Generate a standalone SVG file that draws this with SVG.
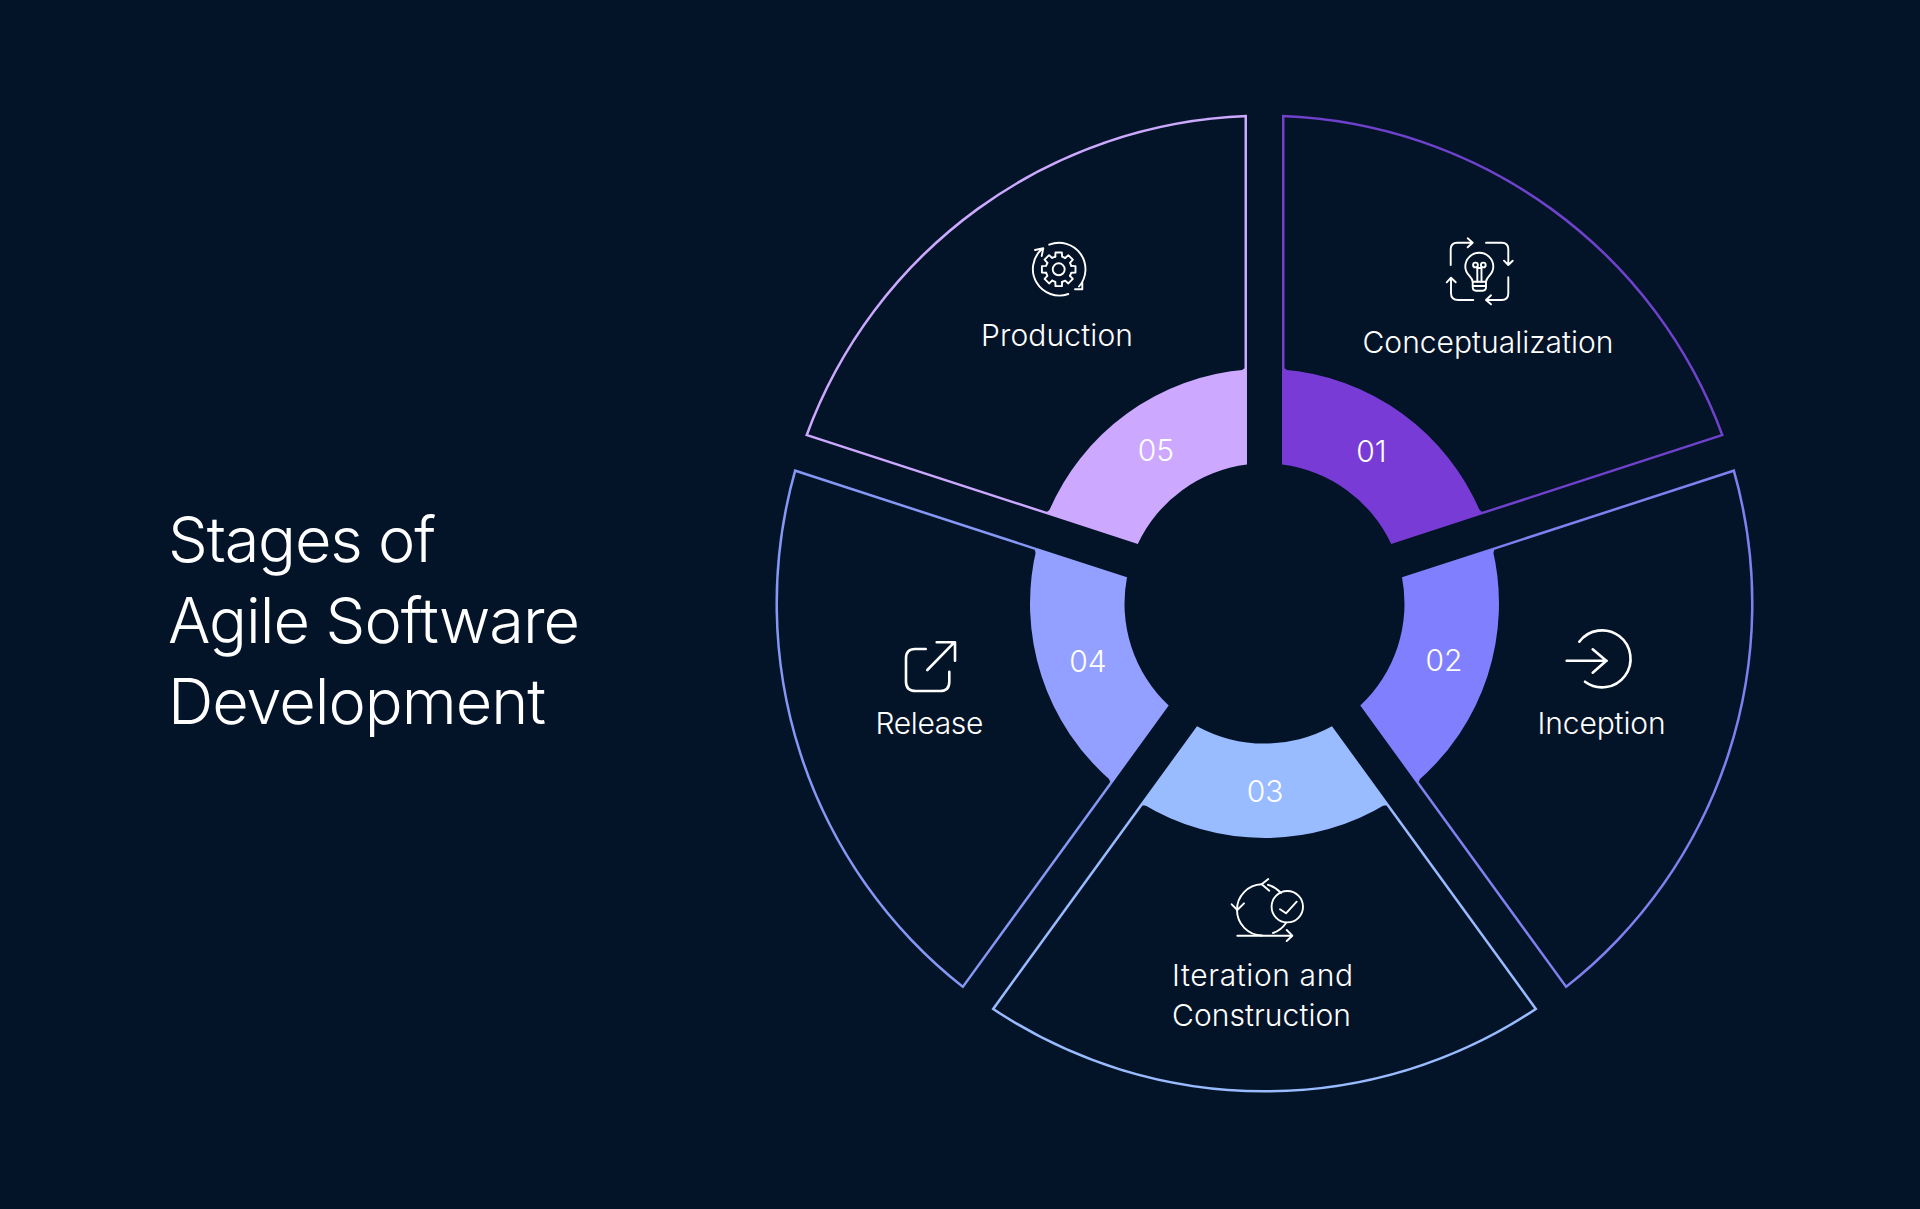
<svg xmlns="http://www.w3.org/2000/svg" width="1920" height="1209" viewBox="0 0 1920 1209">
<style>
.bg{fill:#041428}
.outline{fill:none;stroke-width:5}
.title{font-family:"Inter","Liberation Sans",sans-serif;font-weight:300;font-size:63px;fill:#fff}
.label{font-family:"Inter","Liberation Sans",sans-serif;font-weight:300;font-size:30px;fill:#fff}
.num{font-family:"Inter","Liberation Sans",sans-serif;font-weight:300;font-size:30px;fill:#fff;text-anchor:middle}
.ic{fill:none;stroke:#fff;stroke-width:2.6;stroke-linecap:round;stroke-linejoin:round}
.ic2{fill:none;stroke:#fff;stroke-width:1.9;stroke-linecap:round;stroke-linejoin:round}
</style>
<defs>
<path id="tooth" d="M-3.4 -12.6L-3.2 -16.8L3.2 -16.8L3.4 -12.6L6.5 -11.3"/>
<path id="w1" d="M1282 114.8A489 489 0 0 1 1723.9 435.8L1481.5 514.6L1282 369.6Z"/>
<path id="w2" d="M1734.7 469.1A489 489 0 0 1 1565.9 988.6L1416.1 782.4L1492.3 547.9Z"/>
<path id="w3" d="M1537.6 1009.2A489 489 0 0 1 991.4 1009.2L1141.2 803L1387.8 803Z"/>
<path id="w4" d="M963.1 988.6A489 489 0 0 1 794.3 469.1L1036.7 547.9L1112.9 782.4Z"/>
<path id="w5" d="M805.1 435.8A489 489 0 0 1 1247 114.8L1247 369.6L1047.5 514.6Z"/>
<clipPath id="c1"><use href="#w1"/></clipPath>
<clipPath id="c2"><use href="#w2"/></clipPath>
<clipPath id="c3"><use href="#w3"/></clipPath>
<clipPath id="c4"><use href="#w4"/></clipPath>
<clipPath id="c5"><use href="#w5"/></clipPath>
</defs>
<rect class="bg" width="1920" height="1209"/>
<g id="title">
<text class="title" x="168" y="561.5" textLength="268">Stages of</text>
<text class="title" x="168" y="642.5" textLength="412">Agile Software</text>
<text class="title" x="168" y="723.5" textLength="378">Development</text>
</g>
<g id="stage-01">
<use href="#w1" class="outline" stroke="#6F42CC" clip-path="url(#c1)"/>
<path fill="#783BD5" d="M1282 369.6A234.5 234.5 0 0 1 1481.5 514.6L1391.2 543.9A140 140 0 0 0 1282 464.6Z"/>
<text class="num" x="1371.5" y="462">01</text>
<g class="ic">
<path class="ic2" d="M1450.7 265V249.3Q1450.7 242.7 1457.3 242.7H1471.7M1467.7 238.3L1472.7 242.7L1467.7 247.3"/>
<path class="ic2" d="M1486 242.7H1501.7Q1508.3 242.7 1508.3 249.3V264.3M1504 260.7L1508.3 265L1512.7 260.7"/>
<path class="ic2" d="M1508.3 277.3V293.3Q1508.3 300 1501.7 300H1486.7M1491 295.3L1486 300L1491 304.3"/>
<path class="ic2" d="M1473.3 300H1458.3Q1451 300 1451 293.3V278.3M1446.7 282.3L1451 277.7L1455.7 282.3"/>
<path class="ic2" d="M1472.7 281.7C1472 276 1465.3 275 1465.3 266.7A14 14 0 0 1 1493.3 266.7C1493.3 275 1486.7 276 1486 281.7Z"/>
<path class="ic2" d="M1472.7 281.7V287Q1472.7 290.7 1476 290.7H1482.7Q1486 290.7 1486 287V281.7M1472.7 286H1486M1477.3 281.7V267.5M1481.5 281.7V267.5M1477.3 268H1481.5"/>
<circle class="ic2" cx="1475.5" cy="265" r="2.4"/>
<circle class="ic2" cx="1483.3" cy="265" r="2.4"/>
</g>
<text class="label" x="1488" y="353" text-anchor="middle" textLength="251">Conceptualization</text>
</g>
<g id="stage-02">
<use href="#w2" class="outline" stroke="#8080F0" clip-path="url(#c2)"/>
<path fill="#8080FF" d="M1492.3 547.9A234.5 234.5 0 0 1 1416.1 782.4L1360.3 705.6A140 140 0 0 0 1402 577.2Z"/>
<text class="num" x="1444" y="670.5">02</text>
<g class="ic">
<path d="M1579.3 641.7A28.5 28.5 0 1 1 1585 681.7"/>
<path d="M1566.7 660.7H1606.7M1592.7 649.3L1606.3 660.7L1592.7 672.7"/>
</g>
<text class="label" x="1601.6" y="734" text-anchor="middle" textLength="128">Inception</text>
</g>
<g id="stage-03">
<use href="#w3" class="outline" stroke="#99BBFF" clip-path="url(#c3)"/>
<path fill="#99BBFF" d="M1387.8 803A234.5 234.5 0 0 1 1141.2 803L1197 726.2A140 140 0 0 0 1332 726.2Z"/>
<text class="num" x="1265" y="801.5">03</text>
<g class="ic2">
<path d="M1281 893A25.5 25.5 0 0 0 1268 884.8M1261.7 884.3A25.5 25.5 0 0 0 1237 910A25.5 25.5 0 0 0 1262 935.5M1273 933A25.5 25.5 0 0 0 1286 923"/>
<path d="M1268.3 879L1261.7 884.3L1269.3 890.7M1231.7 904.3L1237.3 910L1244 903.3"/>
<path d="M1237.3 935.7H1291.7M1286.7 930L1292.3 935.7L1286.7 941"/>
<circle cx="1287.3" cy="906.7" r="15.7"/>
<path d="M1280 909.3L1286 913.3L1296.7 901.7"/>
</g>
<text class="label" x="1172" y="986" textLength="181">Iteration and</text>
<text class="label" x="1172" y="1026" textLength="179">Construction</text>
</g>
<g id="stage-04">
<use href="#w4" class="outline" stroke="#8698F5" clip-path="url(#c4)"/>
<path fill="#93A0FF" d="M1112.9 782.4A234.5 234.5 0 0 1 1036.7 547.9L1127 577.2A140 140 0 0 0 1168.7 705.6Z"/>
<text class="num" x="1088" y="671.5">04</text>
<g class="ic">
<path d="M925.7 649H915Q906 649 906 658.3V681.7Q906 691 916 691H940Q949.3 691 949.3 681.7V671.7"/>
<path d="M927.3 670L953.3 643.3M936.7 642.3H955V660.7"/>
</g>
<text class="label" x="929.4" y="734" text-anchor="middle" textLength="108">Release</text>
</g>
<g id="stage-05">
<use href="#w5" class="outline" stroke="#CCA8FF" clip-path="url(#c5)"/>
<path fill="#CCA8FF" d="M1047.5 514.6A234.5 234.5 0 0 1 1247 369.6V464.6A140 140 0 0 0 1137.8 543.9Z"/>
<text class="num" x="1156" y="460.5">05</text>
<g class="ic2">
<path d="M1049.2 244.7A26.4 26.4 0 0 1 1079 286.5M1075 289.3H1082.3V281.7"/>
<path d="M1068.3 294A26.5 26.5 0 0 1 1041.7 249.3M1035 250L1043.3 248.3L1041.7 256"/>
<circle cx="1058.7" cy="269.3" r="6"/>
<g transform="translate(1058.7 269.3)">
<use href="#tooth"/><use href="#tooth" transform="rotate(45)"/><use href="#tooth" transform="rotate(90)"/><use href="#tooth" transform="rotate(135)"/><use href="#tooth" transform="rotate(180)"/><use href="#tooth" transform="rotate(225)"/><use href="#tooth" transform="rotate(270)"/><use href="#tooth" transform="rotate(315)"/>
</g>
</g>
<text class="label" x="1057" y="345.5" text-anchor="middle" textLength="152">Production</text>
</g>
</svg>
